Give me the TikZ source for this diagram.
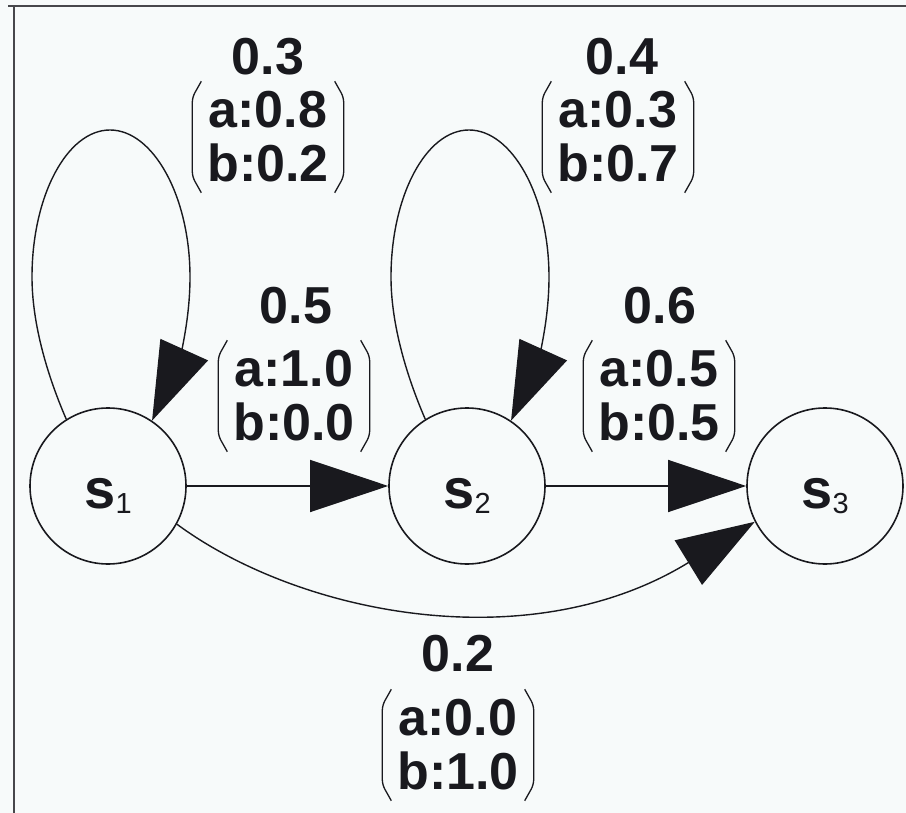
\documentclass[tikz,border=0pt]{standalone}
\usepackage{fontspec}
\setmainfont{Liberation Sans}
\usetikzlibrary{arrows.meta}
\definecolor{bg}{RGB}{247,250,250}
\definecolor{ink}{RGB}{25,25,30}
\newcommand\brackets[1]{%
  \draw[brk] ([xshift=9pt]#1.north west) -- ([yshift=-16pt]#1.north west) -- ([yshift=16pt]#1.south west) -- ([xshift=9pt]#1.south west);
  \draw[brk] ([xshift=-9pt]#1.north east) -- ([yshift=-16pt]#1.north east) -- ([yshift=16pt]#1.south east) -- ([xshift=-9pt]#1.south east);}
\begin{document}
\begin{tikzpicture}[x=1pt,y=-1pt,
  state/.style={circle,draw=ink,line width=1.6pt,minimum size=156pt,inner sep=0pt,text height=44pt,text depth=0pt,text=ink},
  edge/.style={draw=ink,line width=1.4pt,-{Triangle[length=78pt,width=52pt]}},
  prob/.style={font=\fontsize{52}{54}\selectfont\bfseries,text=ink,inner sep=0pt},
  emis/.style={font=\fontsize{52}{54}\selectfont\bfseries,text=ink,align=center,inner sep=0pt,minimum width=151pt,minimum height=111pt},
  brk/.style={draw=ink,line width=1.3pt,rounded corners=5pt},
  frame/.style={draw=ink!80,line width=1.8pt}]
\fill[bg] (0,0) rectangle (906,813);
\useasboundingbox (0,0) rectangle (906,813);
\draw[frame] (8,6) -- (906,6);
\draw[frame] (14,6) -- (14,813);

\node[state] (s1) at (108,486) {{\fontsize{56}{56}\selectfont\bfseries s}{\fontsize{29}{29}\selectfont\raisebox{-5pt}{1}}};
\node[state] (s2) at (467,486) {{\fontsize{56}{56}\selectfont\bfseries s}{\fontsize{29}{29}\selectfont\raisebox{-5pt}{2}}};
\node[state] (s3) at (825,486) {{\fontsize{56}{56}\selectfont\bfseries s}{\fontsize{29}{29}\selectfont\raisebox{-5pt}{3}}};

\draw[edge] (s1.122) .. controls (45,370) and (32,320) .. (32,277) .. controls (32,196) and (67,130) .. (110,130) .. controls (153,130) and (190,196) .. (190,277) .. controls (190,330) and (175,370) .. (s1.56);
\draw[edge] (s2.122) .. controls (404,370) and (391,320) .. (391,277) .. controls (391,196) and (426,130) .. (469,130) .. controls (512,130) and (549,196) .. (549,277) .. controls (549,330) and (534,370) .. (s2.56);
\draw[edge] (s1) -- (s2);
\draw[edge] (s2) -- (s3);
\draw[edge] (s1.-29) .. controls (300,615) and (530,660) .. (s3.207);

\node[prob] (p11) at (268,57) {0.3};
\node[emis] (e11) at (268,137) {a:0.8\\b:0.2};
\node[prob] (p22) at (622,57) {0.4};
\node[emis] (e22) at (618,137) {a:0.3\\b:0.7};
\node[prob] (p12) at (296,306) {0.5};
\node[emis] (e12) at (294,396) {a:1.0\\b:0.0};
\node[prob] (p23) at (660,306) {0.6};
\node[emis] (e23) at (659,396) {a:0.5\\b:0.5};
\node[prob] (p13) at (458,654) {0.2};
\node[emis] (e13) at (458,745) {a:0.0\\b:1.0};
\brackets{e11}
\brackets{e22}
\brackets{e12}
\brackets{e23}
\brackets{e13}
\end{tikzpicture}
\end{document}
